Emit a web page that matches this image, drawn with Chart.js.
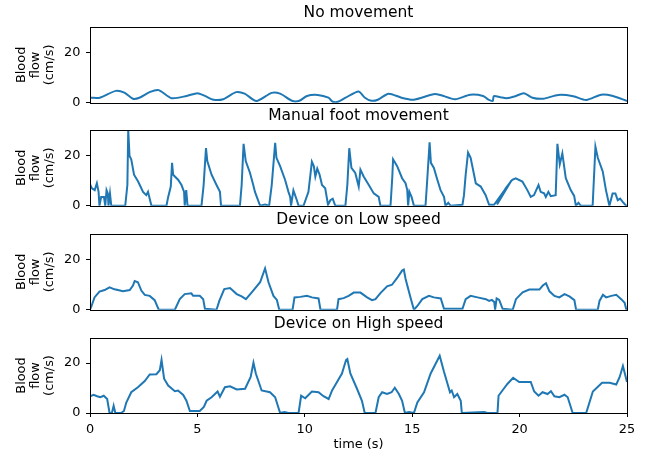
<!DOCTYPE html>
<html>
<head>
<meta charset="utf-8">
<title>Blood flow</title>
<script src="https://cdn.jsdelivr.net/npm/chart.js@4.4.1/dist/chart.umd.min.js"></script>
<style>
    html, body { margin: 0; padding: 0; background: #fff; }
    body { width: 647px; height: 456px; position: relative; overflow: hidden; }
    .panel { position: absolute; left: 0; width: 647px; }
</style>
</head>
<body>
<div class="panel" style="top:0;height:116px"><canvas id="p0"></canvas></div>
<div class="panel" style="top:103px;height:116px"><canvas id="p1"></canvas></div>
<div class="panel" style="top:207px;height:116px"><canvas id="p2"></canvas></div>
<div class="panel" style="top:311px;height:145px"><canvas id="p3"></canvas></div>
<script>
var panelTitles = ['No movement', 'Manual foot movement', 'Device on Low speed', 'Device on High speed'];
var yTitle = ['Blood', 'flow', '(cm/s)'];
var xTitle = 'time (s)';
var yTicks = [0, 20];
var xTicks = [0, 5, 10, 15, 20, 25];

// No movement
var noMoveT = [0, 0.46, 1.2, 1.6, 2.0, 2.3, 2.8, 3.2, 3.8, 4.5,
    5.0, 5.35, 5.75, 6.2, 6.8, 7.2, 7.75, 8.45, 8.85, 9.4,
    9.75, 10.1, 10.6, 11.1, 11.3, 11.55, 11.9, 12.5, 12.8, 13.1,
    13.4, 13.9, 14.5, 15.05, 16.0, 16.3, 17.0, 17.7, 18.3, 18.55,
    18.75, 18.8, 19.1, 19.4, 19.8, 20.2, 20.6, 21.1, 21.8, 22.5,
    23.1, 23.8, 24.3, 25];
var noMoveV = [2.0, 2.0, 4.7, 4.0, 1.6, 2.0, 4.3, 5.0, 1.8, 2.7,
    3.8, 2.7, 1.2, 1.4, 4.2, 3.6, 0.7, 3.9, 3.6, 0.8,
    0.8, 2.7, 3.1, 2.0, 0.4, 0.4, 2.0, 4.5, 2.0, 0.8,
    1.2, 3.6, 2.0, 1.2, 3.4, 3.1, 1.4, 3.2, 2.7, 1.2,
    0.7, 2.6, 2.2, 1.8, 2.6, 3.8, 2.0, 1.6, 3.1, 2.6,
    1.1, 3.2, 2.8, 0.7];

// Manual foot movement
var manualT = [0, 0.09, 0.22, 0.32, 0.40, 0.44, 0.52, 0.65, 0.71, 0.77,
    0.83, 0.86, 0.93, 0.99, 1.64, 1.74, 1.78, 1.84, 1.92, 2.05,
    2.24, 2.47, 2.62, 2.70, 2.86, 3.56, 3.64, 3.76, 3.82, 3.87,
    4.10, 4.26, 4.38, 4.41, 4.48, 4.54, 5.19, 5.29, 5.40, 5.46,
    5.66, 5.89, 6.05, 6.10, 6.98, 7.06, 7.15, 7.25, 7.45, 7.60,
    7.68, 7.92, 8.15, 8.34, 8.46, 8.62, 8.68, 8.85, 9.08, 9.24,
    9.32, 9.36, 9.47, 9.63, 9.71, 9.94, 10.17, 10.33, 10.42, 10.49,
    10.58, 10.69, 10.80, 10.95, 11.08, 11.19, 11.30, 11.42, 11.89, 11.98,
    12.07, 12.17, 12.35, 12.51, 12.59, 12.74, 12.98, 13.21, 13.44, 13.52,
    13.99, 14.07, 14.11, 14.30, 14.53, 14.69, 14.77, 14.81, 14.87, 14.97,
    15.08, 15.62, 15.70, 15.81, 15.87, 16.01, 16.17, 16.32, 16.48, 16.55,
    16.68, 16.79, 17.34, 17.41, 17.49, 17.60, 17.72, 17.88, 17.96, 18.19,
    18.42, 18.58, 18.81, 19.62, 18.95, 19.35, 19.66, 19.82, 20.13, 20.36,
    20.52, 20.67, 20.88, 20.98, 21.14, 21.22, 21.34, 21.45, 21.68, 21.76,
    21.87, 21.99, 22.15, 22.38, 22.54, 22.62, 22.74, 22.85, 23.40, 23.53,
    23.64, 23.87, 24.02, 24.18, 24.33, 24.46, 24.57, 24.68, 24.80, 24.96,
    25];
var manualV = [8.5, 6.9, 6.2, 8.9, 5.5, 0, 3.5, 3.5, 0, 6.2,
    4.9, 0, 4.9, 0, 0, 8.2, 30, 19.7, 18.4, 12.3,
    9.6, 5.5, 4.2, 5.5, 0, 0, 3.5, 7.6, 17.0, 12.3,
    10.3, 8.2, 5.5, 0, 6.2, 0, 0, 8.2, 22.8, 17.7,
    12.3, 8.2, 5.5, 0, 0, 8.2, 24.5, 17.7, 13.0, 8.2,
    5.5, 0, 0.5, 0, 8.2, 24.9, 19.0, 15.7, 10.3, 5.5,
    3.5, 0, 6.1, 2.2, 0, 0, 5.5, 17.4, 15.7, 11.6,
    14.7, 12.3, 8.2, 6.9, 0.4, 2.2, 2.8, 0, 0, 8.2,
    22.8, 15.0, 13.0, 7.6, 14.3, 11.6, 8.2, 4.9, 3.5, 0,
    0, 10.9, 18.4, 15.7, 10.9, 8.9, 6.2, 0, 5.5, 3.5,
    0, 0, 10.3, 25.1, 17.0, 15.0, 10.3, 6.2, 3.5, 0,
    1.2, 0, 0.4, 4.2, 12.3, 21.1, 19.0, 12.3, 8.9, 7.6,
    4.2, 0.4, 0.4, 10.0, 0.5, 6.9, 10.3, 10.9, 9.6, 6.2,
    3.5, 4.2, 8.2, 5.5, 4.9, 3.5, 5.5, 3.8, 4.2, 24.5,
    16.4, 20.7, 10.9, 6.2, 3.9, 0, 1.2, 0, 0, 23.4,
    19.0, 13.6, 6.2, 0, 4.9, 4.9, 2.2, 2.8, 1.5, 0,
    0];

// Device on Low speed
var lowT = [0, 0.06, 0.21, 0.44, 0.68, 0.91, 1.14, 1.30, 1.53, 1.85,
    2.0, 2.08, 2.23, 2.39, 2.55, 2.78, 3.01, 3.2, 3.95, 4.18,
    4.41, 4.72, 4.80, 5.11, 5.27, 5.35, 5.89, 6.02, 6.25, 6.52,
    6.83, 7.06, 7.26, 7.53, 7.92, 8.15, 8.31, 8.54, 8.70, 8.81,
    9.43, 9.52, 9.79, 10.1, 10.33, 10.64, 10.73, 11.50, 11.57, 11.81,
    12.04, 12.28, 12.59, 12.90, 13.13, 13.29, 13.52, 13.83, 14.06, 14.30,
    14.53, 14.61, 14.69, 14.92, 15.08, 15.24, 15.47, 15.78, 16.01, 16.33,
    16.48, 17.34, 17.49, 17.72, 18.04, 18.43, 18.58, 18.71, 18.82, 18.86,
    18.93, 19.05, 19.21, 19.68, 19.83, 20.14, 20.45, 20.92, 21.08, 21.23,
    21.39, 21.62, 21.85, 22.09, 22.32, 22.55, 22.63, 23.64, 23.72, 23.88,
    24.03, 24.27, 24.50, 24.73, 24.89, 24.97, 25];
var lowV = [0.1, 1.2, 4.9, 7.2, 7.8, 8.9, 8.1, 7.8, 7.3, 7.8,
    9.6, 11.4, 10.9, 7.6, 5.9, 5.5, 3.8, 0, 0, 4.2,
    6.2, 6.5, 5.5, 5.5, 4.2, 0.4, 0, 3.5, 8.2, 8.6,
    6.2, 5.3, 4.2, 6.9, 10.9, 16.4, 10.9, 5.5, 3.9, 0,
    0, 4.9, 5.1, 5.5, 4.9, 4.5, 0, 0, 4.2, 4.6,
    5.5, 6.8, 6.8, 4.9, 3.8, 4.2, 6.6, 9.3, 9.9, 12.6,
    15.5, 15.9, 12.3, 4.9, 0, 1.5, 4.2, 5.5, 4.9, 4.5,
    0.4, 0.4, 4.2, 5.5, 4.9, 4.2, 3.5, 3.9, 3.1, 0,
    4.5, 3.9, 0.4, 0, 4.2, 6.9, 8.0, 8.0, 9.6, 10.5,
    7.3, 5.5, 4.9, 6.2, 5.3, 3.8, 0, 0, 3.5, 5.9,
    4.9, 5.5, 5.9, 4.2, 2.8, 0, 0];

// Device on High speed
var highT = [0, 0.17, 0.33, 0.48, 0.64, 0.80, 0.91, 1.02, 1.10, 1.18,
    1.45, 1.58, 1.69, 1.92, 2.23, 2.55, 2.78, 3.09, 3.25, 3.33,
    3.45, 3.64, 3.95, 4.10, 4.34, 4.49, 4.65, 4.96, 5.11, 5.30,
    5.43, 5.66, 5.94, 6.05, 6.28, 6.52, 6.83, 7.22, 7.48, 7.61,
    7.72, 7.99, 8.38, 8.62, 8.85, 9.05, 9.24, 9.71, 9.83, 10.02,
    10.33, 10.64, 10.87, 11.11, 11.27, 11.50, 11.73, 11.92, 11.98, 12.12,
    12.43, 12.66, 12.79, 13.29, 13.44, 13.60, 13.83, 14.04, 14.19, 14.38,
    14.53, 14.66, 14.85, 15.08, 15.24, 15.55, 15.86, 16.28, 16.48, 16.76,
    16.84, 16.95, 17.10, 17.26, 17.31, 18.35, 18.50, 18.97, 19.02, 19.20,
    19.44, 19.70, 19.98, 20.52, 20.68, 20.88, 21.07, 21.30, 21.46, 21.62,
    21.85, 22.09, 22.24, 22.47, 23.10, 23.41, 23.84, 24.19, 24.50, 24.66,
    24.81, 25];
var highV = [6.7, 7.3, 6.7, 6.3, 6.9, 5.6, 0, 0, 2.9, 0,
    0, 0.8, 4.2, 8.3, 10.3, 12.8, 15.4, 15.5, 17.1, 21.2,
    13.7, 11.0, 8.7, 9.0, 7.2, 4.9, 0.8, 0.8, 0.8, 2.4,
    4.9, 6.3, 8.6, 6.5, 10.3, 10.7, 9.4, 9.7, 14.4, 20.1,
    15.8, 9.0, 8.3, 6.3, 0, 0.4, 0, 0, 6.9, 5.9,
    8.6, 8.3, 6.7, 5.6, 9.0, 12.4, 15.8, 21.2, 21.6, 15.8,
    9.7, 4.9, 0, 0, 6.3, 8.3, 7.6, 8.3, 10.1, 7.6,
    4.9, 0, 0.4, 0, 4.2, 8.3, 15.8, 22.9, 16.5, 8.3,
    9.0, 6.3, 7.6, 4.9, 0, 0.4, 0, 0, 6.9, 9.0,
    11.7, 14.1, 12.4, 12.4, 8.6, 6.9, 8.3, 7.6, 8.7, 6.7,
    6.3, 7.3, 6.3, 0, 0, 8.6, 12.1, 12.1, 11.4, 14.4,
    18.8, 12.4];

var series = [
    [noMoveT, noMoveV],
    [manualT, manualV],
    [lowT, lowV],
    [highT, highV]
];

Chart.defaults.font.family = '"DejaVu Sans", sans-serif';
Chart.defaults.color = '#000';

// full box around each axes, like matplotlib spines
var framePlugin = {
    id: 'frame',
    afterDatasetsDraw: function (chart) {
        var a = chart.chartArea;
        var ctx = chart.ctx;
        ctx.save();
        ctx.strokeStyle = '#000';
        ctx.lineWidth = 1;
        ctx.strokeRect(Math.round(a.left) + 0.5, Math.round(a.top) + 0.5,
            Math.round(a.right - a.left), Math.round(a.bottom - a.top));
        ctx.restore();
    }
};

function makePanel(i) {
    var last = i === series.length - 1;
    var t = series[i][0], v = series[i][1];
    var pts = t.map(function (x, k) { return { x: x, y: v[k] }; });
    new Chart(document.getElementById('p' + i), {
        type: 'line',
        data: {
            datasets: [{
                data: pts,
                borderColor: '#1f77b4',
                borderWidth: 2,
                pointRadius: 0,
                fill: false,
                tension: i === 0 ? 0.25 : 0
            }]
        },
        options: {
            responsive: true,
            maintainAspectRatio: false,
            animation: false,
            layout: { padding: { left: 0, right: 20, top: 0, bottom: last ? 0 : 4 } },
            plugins: {
                legend: { display: false },
                tooltip: { enabled: false },
                title: {
                    display: true,
                    text: panelTitles[i],
                    fullSize: false,
                    color: '#000',
                    font: { size: 15.5, weight: 'normal', lineHeight: 1.2 },
                    padding: { top: 4, bottom: 4.4 }
                }
            },
            scales: {
                x: {
                    type: 'linear',
                    min: 0,
                    max: 25,
                    display: last,
                    afterBuildTicks: function (s) { s.ticks = xTicks.map(function (x) { return { value: x }; }); },
                    afterFit: function (s) { s.height = last ? 43 : 0; },
                    grid: { drawOnChartArea: false, tickLength: 4, color: '#000' },
                    border: { display: false },
                    ticks: { color: '#000', padding: 5, maxRotation: 0, font: { size: 12.9 } },
                    title: {
                        display: true,
                        text: xTitle,
                        color: '#000',
                        font: { size: 12.9, lineHeight: 1.2 },
                        padding: { top: 0, bottom: 3.3 }
                    }
                },
                y: {
                    min: 0,
                    max: 30,
                    afterBuildTicks: function (s) { s.ticks = yTicks.map(function (y) { return { value: y }; }); },
                    afterFit: function (s) { s.width = 90; },
                    grid: { drawOnChartArea: false, tickLength: 4, color: '#000' },
                    border: { display: false },
                    ticks: { color: '#000', padding: 5.5, font: { size: 12.9 } },
                    title: {
                        display: true,
                        text: yTitle,
                        color: '#000',
                        font: { size: 12.9, lineHeight: '13.8px' },
                        padding: { top: 14.8, bottom: 0 }
                    }
                }
            }
        },
        plugins: [framePlugin]
    });
}

for (var i = 0; i < series.length; i++) makePanel(i);
</script>
</body>
</html>
